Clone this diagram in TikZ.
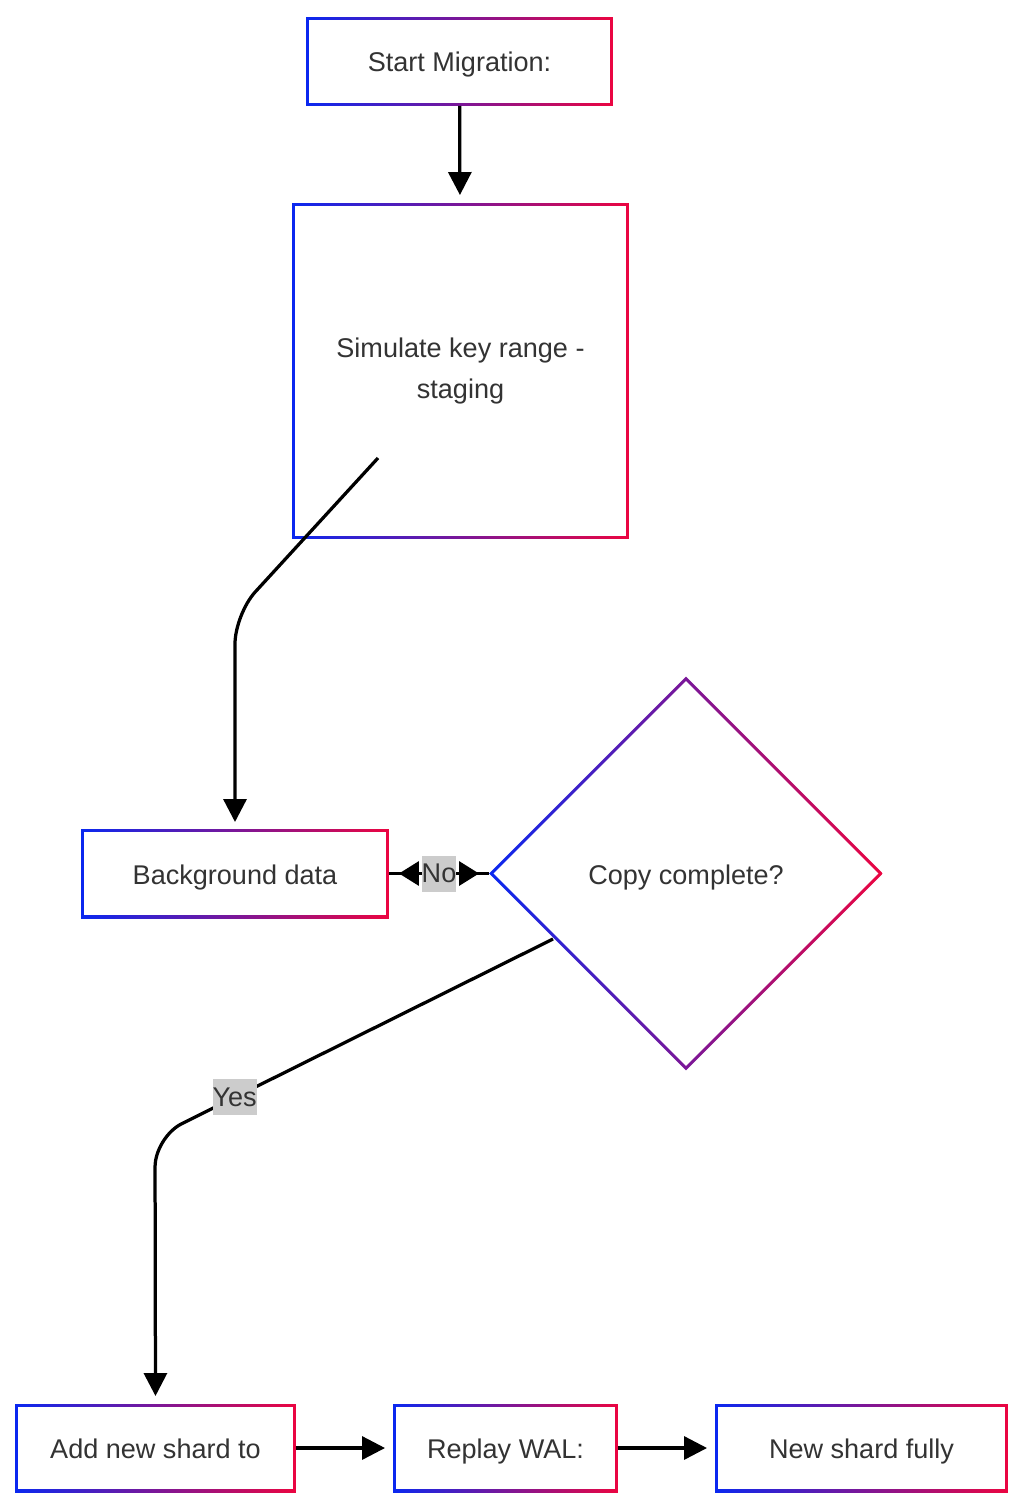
\documentclass[tikz,border=0pt]{standalone}
\usepackage{fontspec}
\setmainfont{Liberation Sans}
\usetikzlibrary{arrows.meta,shapes.geometric}

\definecolor{gblue}{RGB}{10,40,240}
\definecolor{gred}{RGB}{235,5,65}
\definecolor{txtgray}{RGB}{51,51,51}
\definecolor{lblgray}{RGB}{204,204,204}

\tikzset{
  gradbox/.style={rectangle, draw=none, outer sep=0pt, align=center, text=txtgray,
    text height=0.5cm, text depth=0.08cm,
    path picture={
      \shade[left color=gblue, right color=gred] (path picture bounding box.south west) rectangle (path picture bounding box.north east);
      \fill[white] ([shift={(0.065cm,0.065cm)}]path picture bounding box.south west) rectangle ([shift={(-0.065cm,-0.065cm)}]path picture bounding box.north east);
    }},
  graddiamond/.style={diamond, aspect=1, draw=none, inner sep=0pt, outer sep=0pt, text=txtgray,
    text height=0.5cm, text depth=0.08cm,
    path picture={
      \shade[left color=gblue, right color=gred] (path picture bounding box.south west) rectangle (path picture bounding box.north east);
      \fill[white] ([xshift=0.09cm]path picture bounding box.west) -- ([yshift=-0.09cm]path picture bounding box.north) -- ([xshift=-0.09cm]path picture bounding box.east) -- ([yshift=0.09cm]path picture bounding box.south) -- cycle;
    }},
  flow/.style={line width=0.065cm, -{Triangle[length=0.46cm,width=0.46cm]}},
  lbl/.style={sharp corners, fill=lblgray, text=txtgray, inner xsep=0pt, inner ysep=0.1cm, text height=0.44cm, text depth=0.08cm},
}

\begin{document}
\begin{tikzpicture}[x=0.02cm, y=-0.02cm, font=\fontsize{15.4}{23.3}\selectfont]
    \useasboundingbox (0,0) rectangle (1024,1510);

    \node (start) at (459.5,61.5) [gradbox, minimum width=6.14cm, minimum height=1.78cm]{Start Migration:};
    \node (sim) at (460.5,371) [gradbox, text height=, text depth=, minimum width=6.74cm, minimum height=6.72cm]{Simulate key range -\\staging};
    \node (bg) at (235,873.5) [gradbox, minimum width=6.16cm, minimum height=1.78cm]{Background data};
    \node (dia) at (686,873.5) [graddiamond, minimum width=7.88cm, minimum height=7.88cm]{Copy complete?};

    \node (add) at (155.5,1448) [gradbox, minimum width=5.62cm, minimum height=1.76cm]{Add new shard to};
    \node (replay) at (505.5,1448) [gradbox, minimum width=4.5cm, minimum height=1.76cm]{Replay WAL:};
    \node (full) at (861.5,1448) [gradbox, minimum width=5.86cm, minimum height=1.76cm]{New shard fully};

     \draw[flow, shorten >=0.16cm] (start) -- (sim);

     \draw[flow, rounded corners=0.6cm, shorten >=0.14cm] ([shift={(-82.5,87)}]sim.center) -- (235,614) -- (bg.north);

     \draw[line width=0.065cm] (bg.east) -- (dia.west);
     \draw[flow, {Triangle[length=0.4cm,width=0.48cm]}-{Triangle[length=0.4cm,width=0.48cm]}, shorten <=0.2cm, shorten >=0.2cm] (bg.east) -- node[lbl]{No} (dia.west);

     \draw[flow, rounded corners=0.6cm, shorten >=0.16cm] ([shift={(-133,65.5)}]dia.center) -- node[lbl, pos=0.8]{Yes} (155,1137) -- (add.north);

     \draw[flow, shorten >=0.16cm] (add) -- (replay);
     \draw[flow, shorten >=0.16cm] (replay) -- (full);
  \end{tikzpicture}
\end{document}
